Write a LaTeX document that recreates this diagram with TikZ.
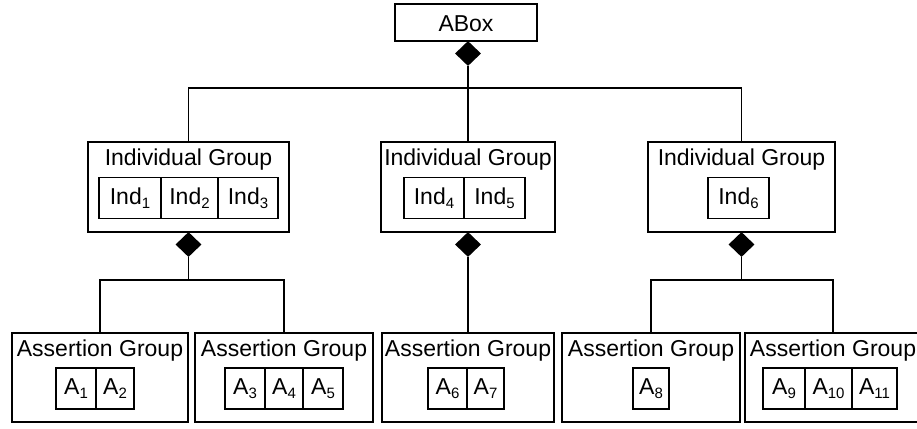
\documentclass[tikz,border=0pt]{standalone}
\usepackage{fontspec}
\setmainfont{Liberation Sans}
\usetikzlibrary{shapes.geometric}
% small lowered index digits
\newcommand\ix[1]{\raisebox{-4pt}{\fontsize{15}{15}\selectfont #1}}

\begin{document}
\begin{tikzpicture}[x=1pt,y=-1pt,
  every node/.style={font=\fontsize{23}{27}\selectfont},
  grp/.style={draw, line width=1.6pt, inner sep=0pt},
  cell/.style={draw, line width=1.5pt, minimum height=41pt, inner sep=0pt,
               text height=12pt, text depth=0pt},
  ttl/.style={anchor=base, inner sep=0pt},
  dmd/.style={diamond, fill=black, inner sep=0pt,
              minimum width=26pt, minimum height=25pt},
  conn/.style={line width=1.6pt}]
\useasboundingbox (0,0) rectangle (917,428);
\clip (0,0) rectangle (917,428);

% root
\node[grp, minimum width=142pt, minimum height=37pt, text height=19pt, text depth=0pt]
  (abox) at (466,22.5) {ABox};
\node[dmd] (d0) at (468,53.5) {};

% individual groups
\node[grp, minimum width=201pt, minimum height=90pt] (ig1) at (188.5,187) {};
\node[grp, minimum width=174pt, minimum height=90pt] (ig2) at (468,187) {};
\node[grp, minimum width=187pt, minimum height=90pt] (ig3) at (741.5,187) {};
\node[ttl] (tig1) at (188.5,165) {Individual Group};
\node[ttl] (tig2) at (468,165) {Individual Group};
\node[ttl] (tig3) at (741.5,165) {Individual Group};

\node[cell, minimum width=62pt] (ind1) at (130,198) {Ind\ix{1}};
\node[cell, minimum width=57pt] (ind2) at (189.5,198) {Ind\ix{2}};
\node[cell, minimum width=60pt] (ind3) at (248,198) {Ind\ix{3}};
\node[cell, minimum width=60pt] (ind4) at (434,198) {Ind\ix{4}};
\node[cell, minimum width=61pt] (ind5) at (494.5,198) {Ind\ix{5}};
\node[cell, minimum width=61pt] (ind6) at (738.5,198) {Ind\ix{6}};

\node[dmd] (d1) at (188.5,244.5) {};
\node[dmd] (d2) at (468,244.5) {};
\node[dmd] (d3) at (741.5,244.5) {};

% assertion groups
\node[grp, minimum width=176pt, minimum height=89pt] (ag1) at (100,377.5) {};
\node[grp, minimum width=178pt, minimum height=89pt] (ag2) at (284,377.5) {};
\node[grp, minimum width=172pt, minimum height=89pt] (ag3) at (468,377.5) {};
\node[grp, minimum width=178pt, minimum height=89pt] (ag4) at (651,377.5) {};
\node[grp, minimum width=176pt, minimum height=89pt] (ag5) at (833,377.5) {};
\node[ttl] (tag1) at (100,356) {Assertion Group};
\node[ttl] (tag2) at (284,356) {Assertion Group};
\node[ttl] (tag3) at (468,356) {Assertion Group};
\node[ttl] (tag4) at (651,356) {Assertion Group};
\node[ttl] (tag5) at (833,356) {Assertion Group};

\node[cell, minimum width=40pt] (a1) at (76,388.5) {A\ix{1}};
\node[cell, minimum width=38pt] (a2) at (115,388.5) {A\ix{2}};
\node[cell, minimum width=40pt] (a3) at (245,388.5) {A\ix{3}};
\node[cell, minimum width=38pt] (a4) at (284,388.5) {A\ix{4}};
\node[cell, minimum width=40pt] (a5) at (323,388.5) {A\ix{5}};
\node[cell, minimum width=39pt] (a6) at (447.5,388.5) {A\ix{6}};
\node[cell, minimum width=37pt] (a7) at (485.5,388.5) {A\ix{7}};
\node[cell, minimum width=36pt] (a8) at (651,388.5) {A\ix{8}};
\node[cell, minimum width=42pt] (a9) at (784,388.5) {A\ix{9}};
\node[cell, minimum width=47pt] (a10) at (828.5,388.5) {A\ix{10}};
\node[cell, minimum width=45pt] (a11) at (874.5,388.5) {A\ix{11}};

% connectors
\coordinate (b0) at (468,88);
\coordinate (b1) at (188.5,280);
\coordinate (b3) at (741.5,280);
\draw[conn] (d0.south) -- (ig2.north);
\draw[conn] (ig1.north) |- (b0) -| (ig3.north);
\draw[conn] (d1.south) -- (b1);
\draw[conn] (ag1.north) |- (b1) -| (ag2.north);
\draw[conn] (d2.south) -- (ag3.north);
\draw[conn] (d3.south) -- (b3);
\draw[conn] (ag4.north) |- (b3) -| (ag5.north);
\end{tikzpicture}
\end{document}
